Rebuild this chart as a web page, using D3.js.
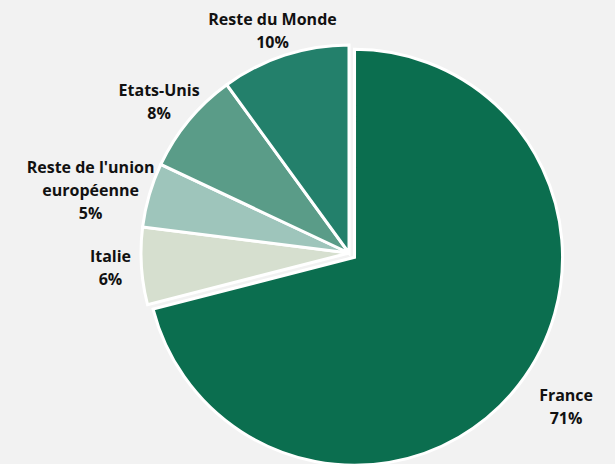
<!DOCTYPE html>
<html>
<head>
<meta charset="utf-8">
<script src="https://cdn.jsdelivr.net/npm/d3@7"></script>
<style>
  html, body { margin: 0; padding: 0; background: #f2f2f2; }
  svg { display: block; }
</style>
</head>
<body>
<svg id="chart" width="615" height="464"></svg>
<script>
// ---- data (clockwise from 12 o'clock) ----
const categories = ["France", "Italie", "Reste de l'union européenne", "Etats-Unis", "Reste du Monde"];
const labelLines = [["France"], ["Italie"], ["Reste de l'union", "européenne"], ["Etats-Unis"], ["Reste du Monde"]];
const values = [71, 6, 5, 8, 10];
const colors = ["#0b6e4f", "#d6dfcf", "#9ec5bb", "#5a9c88", "#23806b"];

// ---- layout ----
const W = 615, H = 464;
const cx = 349, cy = 253, R = 208;
const explode = { "France": 7 };
// label placement: [radius from centre, angle nudge in degrees]
const labelPlace = {
  "France": [266, -2.5],
  "Italie": [239, 0],
  "Reste de l'union européenne": [266, -2.5],
  "Etats-Unis": [243, -1],
  "Reste du Monde": [235, -1]
};

const svg = d3.select("#chart");
svg.append("rect").attr("width", W).attr("height", H).attr("fill", "#f2f2f2");

const data = categories.map((c, i) => ({ name: c, lines: labelLines[i], value: values[i], color: colors[i] }));
const pie = d3.pie().value(d => d.value).sort(null);
const arcs = pie(data);
const arc = d3.arc().innerRadius(0).outerRadius(R);

const g = svg.append("g").attr("transform", `translate(${cx},${cy})`);

g.selectAll("path")
  .data(arcs)
  .join("path")
  .attr("d", arc)
  .attr("fill", d => d.data.color)
  .attr("stroke", "#ffffff")
  .attr("stroke-width", 3)
  .attr("stroke-linejoin", "miter")
  .attr("transform", d => {
    const e = explode[d.data.name] || 0;
    if (!e) return null;
    const [x, y] = d3.pointRadial((d.startAngle + d.endAngle) / 2, e);
    return `translate(${x},${y})`;
  });

const lineH = 23;
g.selectAll("text.lbl")
  .data(arcs)
  .join("text")
  .attr("class", "lbl")
  .attr("text-anchor", "middle")
  .attr("font-family", "'Open Sans', Lato, sans-serif")
  .attr("font-weight", "bold")
  .attr("font-size", 16)
  .attr("fill", "#111111")
  .each(function (d) {
    const [rad, nudge] = labelPlace[d.data.name];
    const a = (d.startAngle + d.endAngle) / 2 + nudge * Math.PI / 180;
    const [x, y] = d3.pointRadial(a, rad);
    const lines = d.data.lines.concat([d.data.value + "%"]);
    const top = y - (lines.length - 1) * lineH / 2;
    const t = d3.select(this);
    lines.forEach((l, i) => {
      t.append("tspan")
        .attr("x", x)
        .attr("y", top + i * lineH)
        .attr("dy", "0.35em")
        .text(l);
    });
  });
</script>
</body>
</html>
